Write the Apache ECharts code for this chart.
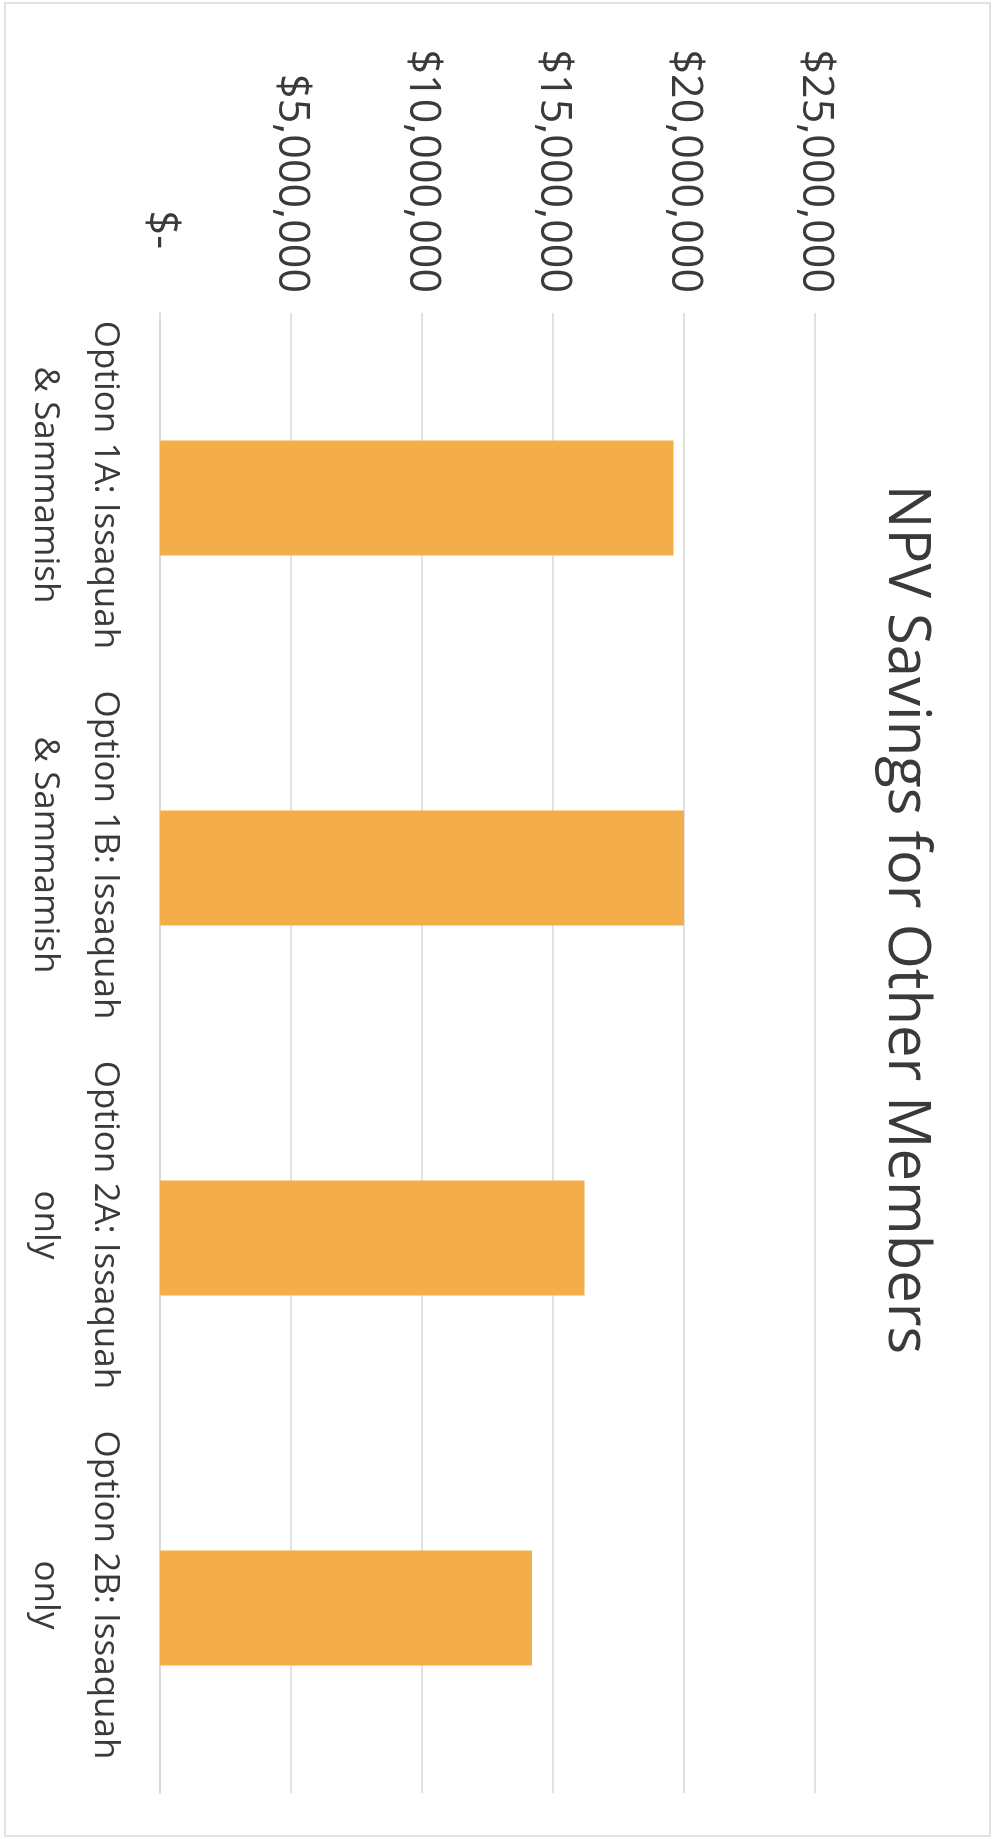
<!DOCTYPE html>
<html>
<head>
<meta charset="utf-8">
<script src="https://cdn.jsdelivr.net/npm/echarts@6/dist/echarts.min.js"></script>
<style>
  html, body { margin: 0; padding: 0; background: #ffffff; width: 997px; height: 1839px; overflow: hidden; }
  /* The reference is a vertical bar chart turned 90° clockwise */
  #chart {
    position: absolute; left: 0; top: 0;
    width: 1839px; height: 997px;
    transform-origin: 0 0;
    transform: translateX(997px) rotate(90deg);
  }
</style>
</head>
<body>
<div id="chart"></div>
<script>
const titleText = 'NPV Savings for Other Members';
const categories = [
  'Option 1A: Issaquah\n& Sammamish',
  'Option 1B: Issaquah\n& Sammamish',
  'Option 2A: Issaquah\nonly',
  'Option 2B: Issaquah\nonly'
];
const npvSavings = [19600000, 20000000, 16200000, 14200000];
const valueTicks = [0, 5000000, 10000000, 15000000, 20000000, 25000000];

const textColor = '#3a3a3a';
const fontFamily = '"Open Sans", "Noto Sans", sans-serif';

const chart = echarts.init(document.getElementById('chart'), null, { renderer: 'canvas' });
chart.setOption({
  backgroundColor: '#ffffff',
  animation: false,
  title: {
    text: titleText,
    left: 'center',
    top: 62,
    padding: [0, 0, 0, 16],
    textStyle: { fontFamily: fontFamily, fontSize: 58, fontWeight: 'normal', color: textColor }
  },
  graphic: [{
    type: 'rect',
    shape: { x: 3, y: 7, width: 1833, height: 985 },
    style: { fill: 'none', stroke: '#d9d9d9', lineWidth: 1.5 },
    silent: true
  }],
  grid: { left: 313, right: 46, top: 182, bottom: 160, containLabel: false },
  xAxis: {
    type: 'category',
    data: categories,
    axisLine: { show: true, lineStyle: { color: '#d9d9d9', width: 1.5 } },
    axisTick: { show: false },
    axisLabel: {
      interval: 0,
      margin: 25,
      fontFamily: fontFamily,
      fontSize: 35,
      lineHeight: 60,
      color: textColor,
      padding: [0, 26, 0, 0]
    }
  },
  yAxis: {
    type: 'value',
    min: valueTicks[0],
    max: valueTicks[valueTicks.length - 1],
    interval: valueTicks[1] - valueTicks[0],
    axisLine: { show: false },
    axisTick: { show: false },
    splitLine: { show: true, lineStyle: { color: '#d9d9d9', width: 1.5 } },
    axisLabel: {
      margin: 20,
      fontFamily: fontFamily,
      fontSize: 43,
      color: textColor,
      formatter: function (v) {
        if (v === 0) return '{z|$-}';
        return '$' + v.toLocaleString('en-US');
      },
      rich: {
        z: { fontFamily: fontFamily, fontSize: 43, color: textColor, padding: [0, 44, 0, 0] }
      }
    }
  },
  series: [{
    type: 'bar',
    data: npvSavings,
    barWidth: 115,
    itemStyle: { color: '#F3AE4A' }
  }]
});
</script>
</body>
</html>
